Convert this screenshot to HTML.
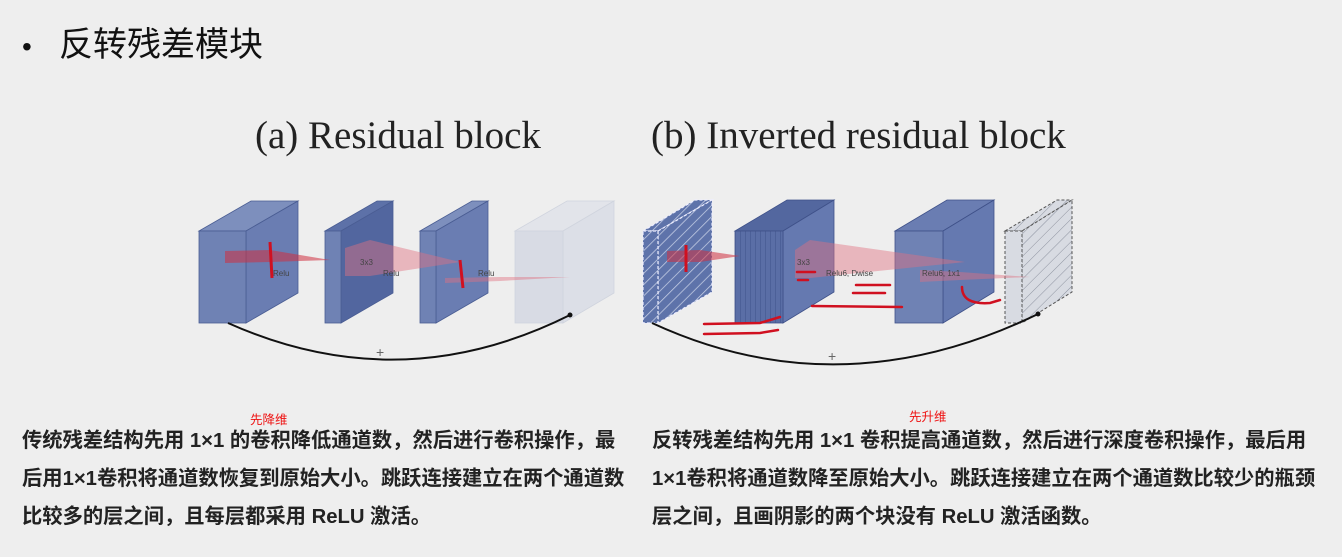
<!DOCTYPE html>
<html><head><meta charset="utf-8"><style>
html,body{margin:0;padding:0;background:#eeeeee;}
svg{display:block}
</style></head><body>
<svg width="1342" height="557" viewBox="0 0 1342 557" xmlns="http://www.w3.org/2000/svg">
<defs>
<pattern id="hb" patternUnits="userSpaceOnUse" width="8" height="8" patternTransform="rotate(45)">
<rect width="8" height="8" fill="#5e73aa"/><line x1="0" y1="0" x2="0" y2="8" stroke="#c8d0e6" stroke-width="1.5"/></pattern>
<pattern id="hg" patternUnits="userSpaceOnUse" width="8" height="8" patternTransform="rotate(45)">
<rect width="8" height="8" fill="#d8dbe2"/><line x1="0" y1="0" x2="0" y2="8" stroke="#8e93a0" stroke-width="1"/></pattern>
<pattern id="vs" patternUnits="userSpaceOnUse" width="5" height="10">
<rect width="5" height="10" fill="#5a6ea6"/><line x1="0" y1="0" x2="0" y2="10" stroke="#3f5189" stroke-width="1"/></pattern>
</defs>
<rect width="1342" height="557" fill="#eeeeee"/>
<text x="22" y="56" font-family="Liberation Sans, sans-serif" font-size="28" fill="#111">•</text>
<text x="59" y="56" font-family="Liberation Sans, 'Noto Sans CJK SC', sans-serif" font-size="34" fill="#111">反转残差模块</text>
<text x="255" y="148" font-family="Liberation Serif, serif" font-size="39" fill="#222">(a) Residual block</text>
<text x="651" y="148" font-family="Liberation Serif, serif" font-size="39" fill="#222">(b) Inverted residual block</text>

<!-- (a) blocks -->
<g stroke="#4a5d93" stroke-width="0.8">
<polygon points="199,231 251,201 298,201 246,231" fill="#7d8fbd"/>
<polygon points="246,231 298,201 298,293 246,323" fill="#6a7db2"/>
<rect x="199" y="231" width="47" height="92" fill="#6f82b4"/>
<polygon points="325,231 377,201 393,201 341,231" fill="#5d71a8"/>
<polygon points="341,231 393,201 393,293 341,323" fill="#52669f"/>
<rect x="325" y="231" width="16" height="92" fill="#6f82b4"/>
<polygon points="420,231 472,201 488,201 436,231" fill="#7d8fbd"/>
<polygon points="436,231 488,201 488,293 436,323" fill="#6a7db2"/>
<rect x="420" y="231" width="16" height="92" fill="#6f82b4"/>
</g>
<g stroke="#d0d4de" stroke-width="0.8">
<polygon points="515,231 567,201 614,201 563,231" fill="#e2e4ea"/>
<polygon points="563,231 614,201 614,293 563,323" fill="#dcdfe7"/>
<rect x="515" y="231" width="48" height="92" fill="#d8dbe4"/>
</g>
<polygon points="225,251 270,250 330,260 270,262 225,263" fill="#d03040" opacity="0.55"/>
<polygon points="345,248 370,240 460,262 370,276 345,276" fill="#e07080" opacity="0.45"/>
<polygon points="445,278 500,277 570,277 500,281 445,283" fill="#e07080" opacity="0.45"/>
<path d="M270,242 L272,278" stroke="#d01020" stroke-width="3" fill="none"/>
<path d="M460,260 L463,288" stroke="#d01020" stroke-width="3" fill="none"/>
<g font-family="Liberation Sans, sans-serif" font-size="8" fill="#444">
<text x="273" y="276">Relu</text><text x="360" y="265">3x3</text><text x="383" y="276">Relu</text><text x="478" y="276">Relu</text>
</g>
<path d="M228,323 Q400,400 570,315" stroke="#111" stroke-width="2" fill="none"/>
<circle cx="570" cy="315" r="2.5" fill="#111"/>
<text x="376" y="357" font-family="Liberation Sans, sans-serif" font-size="14" fill="#666">+</text>

<!-- (b) blocks -->
<g stroke="#eef" stroke-width="1.2" stroke-dasharray="3,2">
<polygon points="643,231 695,200 712,200 658,231" fill="url(#hb)"/>
<polygon points="658,231 712,200 712,292 658,323" fill="url(#hb)"/>
<rect x="643" y="231" width="15" height="92" fill="url(#hb)"/>
</g>
<g stroke="#3f5189" stroke-width="0.8">
<polygon points="735,231 787,200 834,200 783,231" fill="#53679f"/>
<polygon points="783,231 834,200 834,292 783,323" fill="#6579b0"/>
<rect x="735" y="231" width="48" height="92" fill="url(#vs)"/>
<polygon points="895,231 947,200 994,200 943,231" fill="#6a7db2"/>
<polygon points="943,231 994,200 994,292 943,323" fill="#6579b0"/>
<rect x="895" y="231" width="48" height="92" fill="#6f82b4"/>
</g>
<g stroke="#555" stroke-width="1" stroke-dasharray="3,2">
<polygon points="1005,231 1057,200 1072,200 1022,231" fill="url(#hg)"/>
<polygon points="1022,231 1072,200 1072,292 1022,323" fill="url(#hg)"/>
<rect x="1005" y="231" width="17" height="92" fill="#d8dbe2"/>
</g>
<polygon points="667,251 700,250 740,256 700,262 667,262" fill="#d03040" opacity="0.55"/>
<polygon points="795,250 810,240 965,262 810,278 795,278" fill="#e07080" opacity="0.45"/>
<polygon points="920,270 960,272 1030,277 960,280 920,282" fill="#e07080" opacity="0.45"/>
<path d="M686,245 L686,272" stroke="#d01020" stroke-width="3" fill="none"/>
<g stroke="#d01020" stroke-width="2.5" fill="none" stroke-linecap="round">
<path d="M797,272 L815,272"/><path d="M798,280 L808,280"/>
<path d="M856,285 L890,285"/><path d="M853,293 L885,293"/>
<path d="M812,306 L902,307"/>
<path d="M704,324 L760,323 L780,317"/><path d="M704,334 L760,333 L778,330"/>
<path d="M962,287 Q962,305 990,303 L1000,300"/>
</g>
<g font-family="Liberation Sans, sans-serif" font-size="8" fill="#444">
<text x="797" y="265">3x3</text><text x="826" y="276">Relu6, Dwise</text><text x="922" y="276">Relu6, 1x1</text>
</g>
<path d="M652,323 Q840,410 1038,314" stroke="#111" stroke-width="2" fill="none"/>
<circle cx="1038" cy="314" r="2.5" fill="#111"/>
<text x="828" y="361" font-family="Liberation Sans, sans-serif" font-size="14" fill="#666">+</text>

<g font-family="Liberation Sans, 'Noto Sans CJK SC', sans-serif" fill="#222" font-size="20.3" font-weight="bold">
<text x="22" y="447">传统残差结构先用 1×1 的卷积降低通道数，然后进行卷积操作，最</text>
<text x="22" y="485">后用1×1卷积将通道数恢复到原始大小。跳跃连接建立在两个通道数</text>
<text x="22" y="523">比较多的层之间，且每层都采用 ReLU 激活。</text>
<text x="652" y="447">反转残差结构先用 1×1 卷积提高通道数，然后进行深度卷积操作，最后用</text>
<text x="652" y="485">1×1卷积将通道数降至原始大小。跳跃连接建立在两个通道数比较少的瓶颈</text>
<text x="652" y="523">层之间，且画阴影的两个块没有 ReLU 激活函数。</text>
</g>
<g font-family="Liberation Sans, 'Noto Sans CJK SC', sans-serif" fill="#ee1111" font-size="12.5">
<text x="250" y="424">先降维</text><text x="909" y="421">先升维</text>
</g>
</svg>
</body></html>
